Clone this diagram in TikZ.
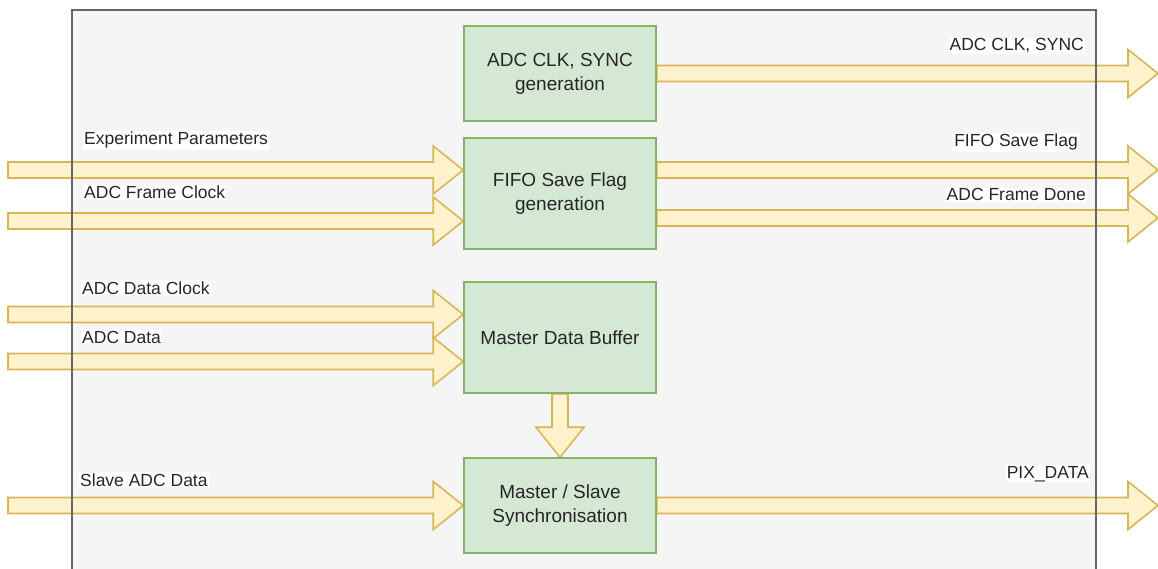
\documentclass[tikz,border=0pt]{standalone}
\usepackage{fontspec}
\setmainfont{Liberation Sans}
\usetikzlibrary{calc,backgrounds}
\definecolor{boxfill}{HTML}{D5E8D4}
\definecolor{boxline}{HTML}{82B366}
\definecolor{sigfill}{HTML}{FFF2CC}
\definecolor{sigline}{HTML}{D6B656}
\definecolor{framefill}{HTML}{F5F5F5}
\definecolor{frameline}{HTML}{666666}
% wide signal arrow from #1 to #2 (body 16, head 48 wide, 30 long)
\newcommand{\bus}[2]{%
  \coordinate (bh) at ($(#2)!30pt!(#1)$);
  \filldraw[sig] ($(#1)!8pt!90:(#2)$) -- ($(bh)!8pt!90:(#2)$) -- ($(bh)!24pt!90:(#2)$)
    -- (#2) -- ($(bh)!24pt!-90:(#2)$) -- ($(bh)!8pt!-90:(#2)$) -- ($(#1)!8pt!-90:(#2)$) -- cycle;}

\begin{document}
\begin{tikzpicture}[x=1pt,y=-1pt,line join=miter,
  block/.style={draw=boxline,fill=boxfill,line width=1.5pt,minimum width=192pt,
    align=center,font=\fontsize{19}{24}\selectfont,text=black!85},
  sig/.style={draw=sigline,fill=sigfill,line width=1.6pt},
  lbl/.style={fill=white,inner sep=1pt,font=\fontsize{17.5}{21}\selectfont,text=black!85}]
  \clip (0,0) rectangle (1158,569);
  % processing blocks
  \node[block,minimum height=95pt] (clkgen) at (560,73.5) {ADC CLK, SYNC\\generation};
  \node[block,minimum height=111pt] (fifo) at (560,193.5) {FIFO Save Flag\\generation};
  \node[block,minimum height=111pt] (buffer) at (560,337.5) {Master Data Buffer};
  \node[block,minimum height=95pt] (sync) at (560,505.5) {Master / Slave\\Synchronisation};
  % free ends of the signals
  \coordinate (in1) at (8,170);
  \coordinate (in2) at (8,221);
  \coordinate (in3) at (8,314.5);
  \coordinate (in4) at (8,361.5);
  \coordinate (in5) at (8,505.5);
  \coordinate (out1) at (1158,73.5);
  \coordinate (out2) at (1158,170);
  \coordinate (out3) at (1158,218);
  \coordinate (out4) at (1158,505.5);
  \coordinate (in1t) at (in1 -| fifo.west);
  \coordinate (in2t) at (in2 -| fifo.west);
  \coordinate (in3t) at (in3 -| buffer.west);
  \coordinate (in4t) at (in4 -| buffer.west);
  \coordinate (out2s) at (out2 -| fifo.east);
  \coordinate (out3s) at (out3 -| fifo.east);
  \begin{pgfonlayer}{background}
    \fill[framefill] (72,10) rectangle (1096,580);
    \bus{in1}{in1t}
    \bus{in2}{in2t}
    \bus{in3}{in3t}
    \bus{in4}{in4t}
    \bus{in5}{sync.west}
    \bus{clkgen.east}{out1}
    \bus{out2s}{out2}
    \bus{out3s}{out3}
    \bus{sync.east}{out4}
    \bus{buffer.south}{sync.north}
  \end{pgfonlayer}
  \draw[frameline,line width=1.5pt] (72,580) -- (72,10) -- (1096,10) -- (1096,580);
  % signal names
  \node[lbl,anchor=base west] (lpar) at (83,145) {Experiment Parameters};
  \node[lbl,anchor=base west] (lfclk) at (83,199) {ADC Frame Clock};
  \node[lbl,anchor=base west] (ldclk) at (81,294) {ADC Data Clock};
  \node[lbl,anchor=base west] (ldata) at (81,343) {ADC Data};
  \node[lbl,anchor=base west] (lslave) at (79,486) {Slave ADC Data};
  \node[lbl,anchor=base east] (lclk) at (1085,51) {ADC CLK, SYNC};
  \node[lbl,anchor=base east] (lsave) at (1079,147) {FIFO Save Flag};
  \node[lbl,anchor=base east] (ldone) at (1087,201) {ADC Frame Done};
  \node[lbl,anchor=base east] (lpix) at (1090,478) {PIX\_DATA};
\end{tikzpicture}
\end{document}
